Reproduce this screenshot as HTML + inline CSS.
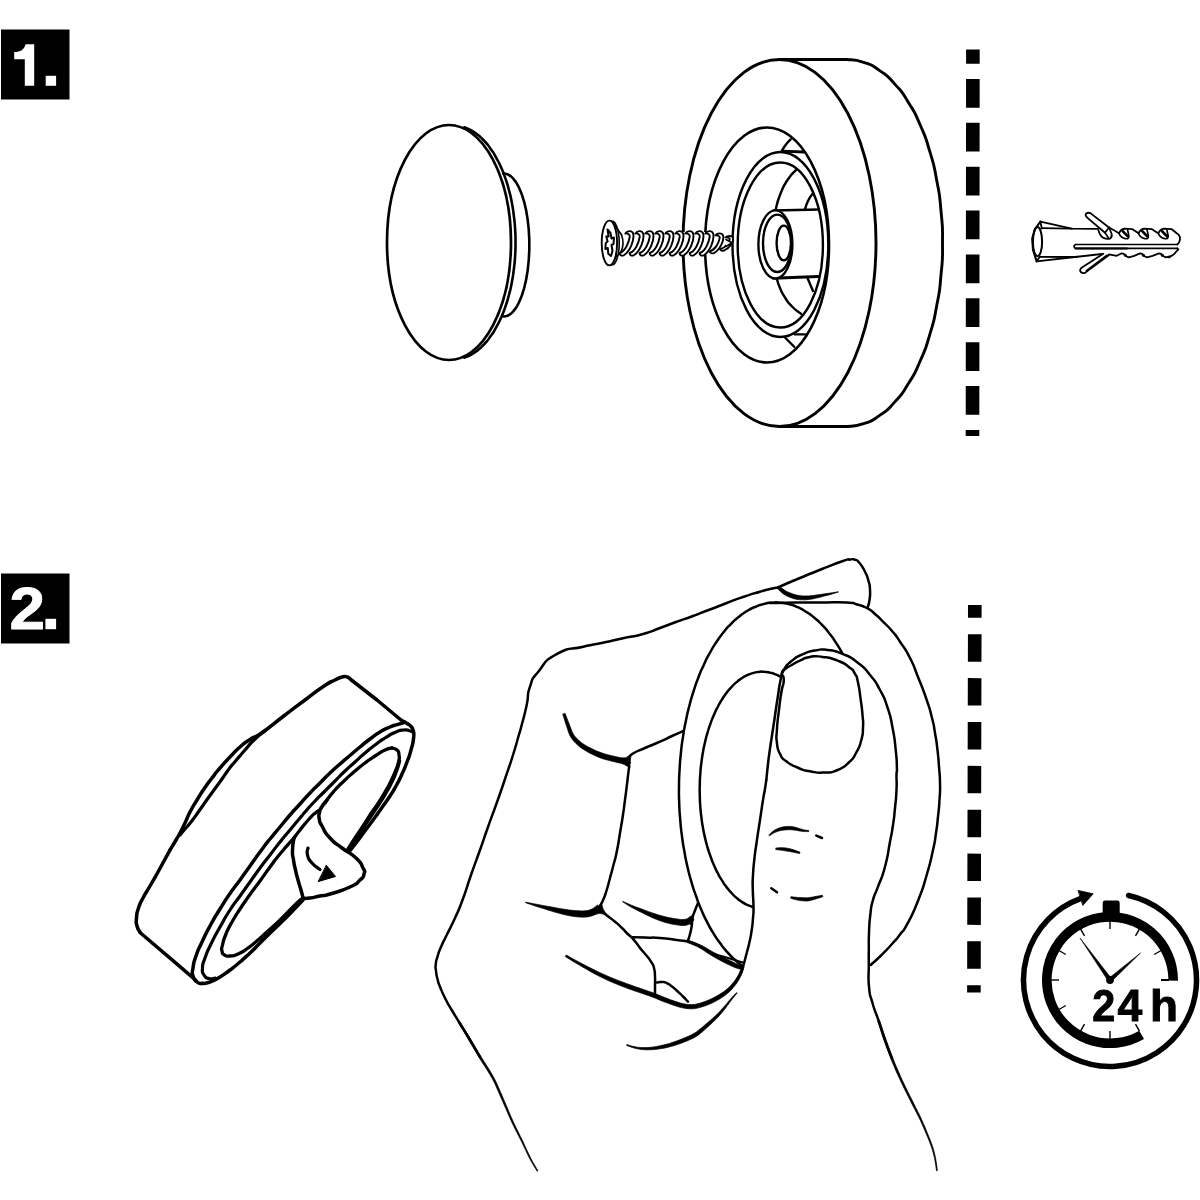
<!DOCTYPE html>
<html><head><meta charset="utf-8"><title>Montage</title>
<style>
html,body{margin:0;padding:0;background:#fff;}
body{width:1200px;height:1200px;overflow:hidden;font-family:"Liberation Sans",sans-serif;}
svg{display:block;}
text{font-family:"Liberation Sans",sans-serif;font-weight:bold;}
</style></head><body>
<svg width="1200" height="1200" viewBox="0 0 1200 1200" fill="none" stroke="#000" stroke-linecap="round" stroke-linejoin="round">
<defs><filter id="gray" x="-10%" y="-10%" width="120%" height="120%" color-interpolation-filters="sRGB"><feColorMatrix type="saturate" values="0"/></filter></defs>
<rect x="0" y="0" width="1200" height="1200" fill="#fff" stroke="none"/>

<!-- step labels -->
<g stroke="none">
<rect x="1" y="29.5" width="68.5" height="70" fill="#000"/>
<rect x="1" y="573.5" width="68.5" height="70" fill="#000"/>
<text x="12" y="86" font-size="59" fill="#000">1.</text>
<path d="M34.2,44.2 L34.2,85.8 L24.8,85.8 L24.8,59.2 L14.2,59.2 L14.2,52 C20.5,52 24.2,49.5 25.6,44.2 Z" fill="#fff"/>
<rect x="45.7" y="75.8" width="10.4" height="10" fill="#fff"/>
<text transform="translate(9.6,629.2) scale(1.075,1)" font-size="59.4" fill="#fff" stroke="#fff" stroke-width="0.9">2<tspan dx="-3" stroke="none">.</tspan></text>
<rect x="45.4" y="618.8" width="10.7" height="10.4" fill="#fff"/>
</g>
<!-- wall dashed lines -->
<line x1="972.9" y1="49.6" x2="972.5" y2="436" stroke-width="13.6" stroke-linecap="butt" stroke-dasharray="28.7 15.17" stroke-dashoffset="14.5"/>
<line x1="974.8" y1="604.9" x2="973.9" y2="992.5" stroke-width="13.6" stroke-linecap="butt" stroke-dasharray="27.4 16.47" stroke-dashoffset="14.5"/>
<!-- step 1: cover cap -->
<ellipse cx="449" cy="242.5" rx="62" ry="117.5" stroke-width="2.7" />
<path d="M464.3,127.3 C466.6,128.3 466.7,127.8 471.3,130.4 C475.9,133 473.7,131.5 478.1,135.1 C482.5,138.7 480.3,136.6 484.5,141.2 C488.7,145.7 486.7,143.2 490.5,148.7 C494.4,154.1 492.6,151.2 496,157.4 C499.5,163.6 497.9,160.4 501,167.3 C504.1,174.2 502.7,170.6 505.3,178.2 C507.9,185.8 506.8,181.9 508.9,190 C511.1,198.1 510.1,194 511.8,202.5 C513.4,211 512.7,206.7 513.8,215.5 C514.9,224.3 514.5,219.9 515.1,228.9 C515.6,237.9 515.5,233.4 515.5,242.5 C515.5,251.6 515.6,247.1 515.1,256.1 C514.5,265.1 514.9,260.7 513.8,269.5 C512.7,278.3 513.4,274 511.8,282.5 C510.1,291 511.1,286.9 508.9,295 C506.8,303.1 507.9,299.2 505.3,306.8 C502.7,314.4 504.1,310.8 501,317.7 C497.9,324.6 499.5,321.4 496,327.6 C492.6,333.8 494.4,330.9 490.5,336.3 C486.7,341.8 488.7,339.3 484.5,343.8 C480.3,348.4 482.5,346.3 478.1,349.9 C473.7,353.5 475.9,352 471.3,354.6 C466.7,357.2 466.6,356.7 464.3,357.7" stroke-width="2.6" />
<path d="M503.2,173.5 C504.4,173.7 504.4,173.2 506.9,174.1 C509.3,174.9 508.1,174.3 510.5,176.1 C512.9,178 511.7,176.8 514,179.6 C516.2,182.4 515.2,180.8 517.3,184.4 C519.3,188.1 518.4,186.1 520.2,190.5 C522.1,195 521.3,192.6 522.9,197.8 C524.5,202.9 523.8,200.2 525.1,206 C526.5,211.7 525.9,208.8 526.9,215 C528,221.2 527.5,218.1 528.2,224.6 C528.9,231.2 528.7,227.9 529,234.7 C529.4,241.5 529.3,238.1 529.3,245 C529.3,251.9 529.4,248.5 529,255.3 C528.7,262.1 528.9,258.8 528.2,265.4 C527.5,271.9 528,268.8 526.9,275 C525.9,281.2 526.5,278.3 525.1,284 C523.8,289.8 524.5,287.1 522.9,292.2 C521.3,297.4 522.1,295 520.2,299.5 C518.4,303.9 519.3,301.9 517.3,305.6 C515.2,309.2 516.2,307.6 514,310.4 C511.7,313.2 512.9,312 510.5,313.9 C508.1,315.7 509.3,315.1 506.9,315.9 C504.4,316.8 504.4,316.3 503.2,316.5" stroke-width="2.6" />
<!-- step 1: base ring -->
<ellipse cx="779.5" cy="243" rx="96.5" ry="183.5" stroke-width="2.9" />
<path d="M779.5,59.5 L847,59.5 847,59.5 C852.5,60.4 852.7,58.6 863.6,62.3 C874.5,66 869.3,63.3 879.7,70.6 C890.1,77.8 885.2,73.5 894.8,84.1 C904.3,94.7 899.9,88.8 908.4,102.4 C916.9,116.1 913.1,108.8 920.2,125 C927.3,141.3 924.2,132.9 929.7,151.2 C935.2,169.6 933,160.3 936.7,180.2 C940.5,200.2 939.1,190.2 941,211.1 C943,232.1 942.5,221.8 942.5,243 C942.5,264.2 943,253.9 941,274.9 C939.1,295.8 940.5,285.8 936.7,305.8 C933,325.7 935.2,316.4 929.7,334.8 C924.2,353.1 927.3,344.7 920.2,361 C913.1,377.2 916.9,369.9 908.4,383.6 C899.9,397.2 904.3,391.3 894.8,401.9 C885.2,412.5 890.1,408.2 879.7,415.4 C869.3,422.7 874.5,420 863.6,423.7 C852.7,427.4 852.5,425.6 847,426.5 L779.5,426.5" stroke-width="2.9" />
<ellipse cx="767" cy="245" rx="62" ry="117.5" stroke-width="2.6" />
<ellipse cx="780.4" cy="244.5" rx="47.9" ry="92.5" stroke-width="2.4" />
<ellipse cx="780.3" cy="245" rx="42.6" ry="82.5" stroke-width="2.4" />
<path d="M796,170 C793.2,173.3 792.8,171.7 787.5,180 C782.2,188.3 784,185 780,195 C776,205 777.1,205 775.6,210" stroke-width="2.4" />
<path d="M777,279.4 C778,282.3 777.3,282 780,288 C782.7,294 781,291.3 785,297.5 C789,303.7 786.7,301.1 792,306.5 C797.3,311.9 798,311.4 801,313.8" stroke-width="2.4" />
<path d="M790.6,139.4 C789.1,141.1 788.9,140.8 786,144.5 C783.1,148.2 783.3,148.6 781.9,150.6" stroke-width="2.4" />
<path d="M781.9,151.2 L803.8,152" stroke-width="2.8" />
<path d="M812.5,193.8 C811,196.2 810.5,195.8 808,201 C805.5,206.2 806,206.6 805,209.4" stroke-width="2.4" />
<path d="M773.5,210.5 L819,209.5" stroke-width="2.4" />
<path d="M773,278.2 L818.3,276.5" stroke-width="2.9" />
<path d="M807.5,278 L813,291" stroke-width="2.4" />
<path d="M795,334.4 L805.5,334.4" stroke-width="2.4" />
<path d="M785,337.5 L794.4,347" stroke-width="2.4" />
<ellipse cx="775.4" cy="244.4" rx="17" ry="34" stroke-width="2.4" fill="#fff"/>
<ellipse cx="777.3" cy="243.3" rx="14.3" ry="28.7" stroke-width="2.4" />
<ellipse cx="783.8" cy="243" rx="7.2" ry="17.4" stroke-width="2.4" />
<!-- step 1: screw -->
<path d="M622,232 L722,232 L731.5,242.5 L722,254.5 L622,254.5 Z" fill="#fff" stroke="none"/>
<path d="M621.5,235 C623.5,240 623.5,247 620.5,253" stroke-width="1.6"/>
<path d="M625.3,233.5 C627.3,230.4 632.3,230.2 633.3,234 C634.3,240 630.3,251 623.8,255.3 C621.3,256.4 619.3,254.6 619.8,253 C625.3,251 628.8,243 629.8,236.5 C629.8,234.5 627.3,233 625.3,233.5Z" stroke-width="1.9" fill="#fff"/>
<path d="M635.3,233.5 C637.3,230.4 642.3,230.2 643.3,234 C644.3,240 640.3,251 633.8,255.3 C631.3,256.4 629.3,254.6 629.8,253 C635.3,251 638.8,243 639.8,236.5 C639.8,234.5 637.3,233 635.3,233.5Z" stroke-width="1.9" fill="#fff"/>
<path d="M645.3,233.5 C647.3,230.4 652.3,230.2 653.3,234 C654.3,240 650.3,251 643.8,255.3 C641.3,256.4 639.3,254.6 639.8,253 C645.3,251 648.8,243 649.8,236.5 C649.8,234.5 647.3,233 645.3,233.5Z" stroke-width="1.9" fill="#fff"/>
<path d="M655.3,233.5 C657.3,230.4 662.3,230.2 663.3,234 C664.3,240 660.3,251 653.8,255.3 C651.3,256.4 649.3,254.6 649.8,253 C655.3,251 658.8,243 659.8,236.5 C659.8,234.5 657.3,233 655.3,233.5Z" stroke-width="1.9" fill="#fff"/>
<path d="M665.3,233.5 C667.3,230.4 672.3,230.2 673.3,234 C674.3,240 670.3,251 663.8,255.3 C661.3,256.4 659.3,254.6 659.8,253 C665.3,251 668.8,243 669.8,236.5 C669.8,234.5 667.3,233 665.3,233.5Z" stroke-width="1.9" fill="#fff"/>
<path d="M675.3,233.5 C677.3,230.4 682.3,230.2 683.3,234 C684.3,240 680.3,251 673.8,255.3 C671.3,256.4 669.3,254.6 669.8,253 C675.3,251 678.8,243 679.8,236.5 C679.8,234.5 677.3,233 675.3,233.5Z" stroke-width="1.9" fill="#fff"/>
<path d="M685.3,233.5 C687.3,230.4 692.3,230.2 693.3,234 C694.3,240 690.3,251 683.8,255.3 C681.3,256.4 679.3,254.6 679.8,253 C685.3,251 688.8,243 689.8,236.5 C689.8,234.5 687.3,233 685.3,233.5Z" stroke-width="1.9" fill="#fff"/>
<path d="M695.3,233.5 C697.3,230.4 702.3,230.2 703.3,234 C704.3,240 700.3,251 693.8,255.3 C691.3,256.4 689.3,254.6 689.8,253 C695.3,251 698.8,243 699.8,236.5 C699.8,234.5 697.3,233 695.3,233.5Z" stroke-width="1.9" fill="#fff"/>
<path d="M705.3,233.5 C707.3,230.4 712.3,230.2 713.3,234 C714.3,240 710.3,251 703.8,255.3 C701.3,256.4 699.3,254.6 699.8,253 C705.3,251 708.8,243 709.8,236.5 C709.8,234.5 707.3,233 705.3,233.5Z" stroke-width="1.9" fill="#fff"/>
<path d="M715.4,235.3 C717.3,232.7 722.2,232.6 723.2,235.7 C724.1,240.6 720.2,249.6 713.9,253.1 C711.5,254 709.5,252.6 710,251.3 C715.4,249.6 718.8,243.1 719.8,237.7 C719.8,236.1 717.3,234.9 715.4,235.3Z" stroke-width="1.9" fill="#fff"/>
<path d="M725.5,237.4 C727.4,235.6 732.1,235.4 733,237.7 C733.9,241.3 730.2,247.9 724.1,250.5 C721.7,251.2 719.8,250.1 720.3,249.1 C725.5,247.9 728.8,243.1 729.7,239.2 C729.7,238 727.4,237.1 725.5,237.4Z" stroke-width="1.9" fill="#fff"/>
<path d="M726,239.5 L732,242.8 L726,246.5" stroke-width="1.6" fill="#fff"/>
<path d="M611.5,221 L616.7,228 L621.7,235 M611.5,265 L615.8,256.7 L620.5,253" stroke-width="1.7"/>
<path d="M613.2,221.3 C613.6,221.7 613.7,221.5 614.6,222.6 C615.5,223.7 615.1,223 615.9,224.7 C616.7,226.3 616.3,225.4 617,227.4 C617.7,229.5 617.4,228.4 617.9,230.8 C618.5,233.2 618.3,231.9 618.6,234.6 C619,237.2 618.9,235.9 619.1,238.7 C619.2,241.5 619.2,240.1 619.2,243 C619.2,245.9 619.2,244.5 619.1,247.3 C618.9,250.1 619,248.8 618.6,251.4 C618.3,254.1 618.5,252.8 617.9,255.2 C617.4,257.6 617.7,256.5 617,258.6 C616.3,260.6 616.7,259.7 615.9,261.3 C615.1,263 615.5,262.3 614.6,263.4 C613.7,264.5 613.6,264.3 613.2,264.7" stroke-width="1.6" />
<ellipse cx="609.4" cy="243" rx="7.7" ry="22.4" stroke-width="1.9" fill="#fff"/>
<path d="M607.5,229.5 L610.5,233 L611.5,238.5 L614,237.5 L613.5,244 L611.5,245 L612.5,251 L611,256 L608.3,253.8 L607.8,248 L605.3,249 L605.8,243 L607.6,241.5 L606.3,236.5 L608.6,236.5 Z" stroke-width="2"/>
<!-- step 1: wall plug -->
<path d="M1040.4,221.7 L1071.7,228.6 L1098,228.8" stroke-width="1.8" />
<path d="M1041.7,228.2 L1072,228.7" stroke-width="1.8" />
<path d="M1036.7,261.3 L1075,257 L1101.7,254" stroke-width="1.8" />
<path d="M1040,256.8 L1076.7,257" stroke-width="1.8" />
<path d="M1040.4,221.7 L1035,229 L1032.2,238.5 L1033,250 L1036.7,261.3" stroke-width="2.1" />
<path d="M1040.4,221.7 L1041.8,228.5 M1036.7,261.3 L1040,256.5" stroke-width="1.8" />
<ellipse cx="1037.5" cy="241.7" rx="4.6" ry="14.6" stroke-width="2" />
<path d="M1075.5,244.5 L1177,244.5 M1177,248.4 L1075.5,248.4 Q1072.6,246.4 1075.5,244.5" stroke-width="1.7"/>
<path d="M1075.5,248.5 L1127,248.5" stroke-width="2.2" />
<path d="M1098.3,230 Q1100,236 1103,237.6 Q1107,239.6 1110,238.6 Q1112.6,237 1111.5,233.5 L1109,227.5" stroke-width="1.8" fill="#fff"/>
<path d="M1086.3,213.4 Q1088.5,212 1091,213.6 L1109,227.5 L1105,232.7 L1087.2,217.6 Q1084.6,215 1086.3,213.4 Z" stroke-width="1.8" fill="#fff"/>
<path d="M1105,232.7 L1108.5,238" stroke-width="1.6" />
<path d="M1103.3,253.7 L1081.2,268 Q1079.3,270 1080.8,272 Q1082.6,273.8 1085,272.9 L1109,255" stroke-width="1.8" fill="#fff"/>
<path d="M1086.5,270.6 L1107,255.3" stroke-width="1.8" />
<path d="M1109,227.5 L1114,230.2 L1119,233.3 Q1121,229.2 1124.5,228.7 L1132.5,229.2 L1135.5,231.2 L1138.5,233.3 Q1140.5,229.2 1144,228.7 L1152,229.2 L1155,231.2 L1158.3,233.3 Q1160.3,229.2 1163.8,228.7 L1171.8,229.2 L1176.7,233.3 Q1180.4,235.5 1180,239 Q1179.6,243 1177.3,244.5" stroke-width="1.8" />
<path d="M1119,233.3 Q1120.5,237.8 1125.5,238.7 Q1129.5,239.2 1128.8,235.5 L1127.5,229.6" stroke-width="1.7"/>
<path d="M1122.6,231 L1128,236.6" stroke-width="2.6" />
<path d="M1138.5,233.3 Q1140,237.8 1145,238.7 Q1149,239.2 1148.3,235.5 L1147,229.6" stroke-width="1.7"/>
<path d="M1142.1,231 L1147.5,236.6" stroke-width="2.6" />
<path d="M1158.3,233.3 Q1159.8,237.8 1164.8,238.7 Q1168.8,239.2 1168.1,235.5 L1166.8,229.6" stroke-width="1.7"/>
<path d="M1161.9,231 L1167.3,236.6" stroke-width="2.6" />
<path d="M1109,254.3 L1116.7,255.8 L1121.7,253.3 Q1124.2,253.3 1126.2,256.3 L1128.7,257.4 L1134.2,255.8 L1140,253.3 Q1142.5,253.3 1144.5,256.3 L1147,257.4 L1152.5,255.8 L1159,253.3 Q1161.5,253.3 1163.5,256.3 L1166,257.4 L1171.5,255.8 L1169,257.5 L1174,254.2 L1178.3,249.4 L1177.3,248.3" stroke-width="1.8" />
<circle cx="1125.3" cy="255.2" r="1.5" fill="#000" stroke="none"/>
<circle cx="1143.4" cy="255.2" r="1.5" fill="#000" stroke="none"/>
<circle cx="1162.3" cy="255.2" r="1.5" fill="#000" stroke="none"/>
<!-- step 2: loose ring with adhesive tab -->
<path d="M352,680.5 L377,700 L401,720 L408,724" stroke-width="3.5" />
<path d="M352,680.5 C351,679.7 350.8,679.2 349,678 C347.2,676.8 348.7,677.3 346.7,676.9 C344.7,676.5 346.9,675.8 343,676.8 C339.1,677.8 341.7,676.7 335,680 C328.3,683.3 333,680 323,686.7 C313,693.4 317.7,690.6 305,700 C292.3,709.4 299,704.3 285,715 C271,725.7 274.7,723.8 263,732 C251.3,740.2 257.7,734.5 250,739.5 C242.3,744.5 246.7,741.2 240,747 C233.3,752.8 236.7,750 230,757 C223.3,764 226,761 220,768 C214,775 217.3,771 212,778 C206.7,785 209,781.7 204,789 C199,796.3 201.7,792.3 197,800 C192.3,807.7 194,804.3 190,812 C186,819.7 188.3,816 185,823 C181.7,830 183,827.3 180,833 C177,838.7 179.3,834.3 176,840 C172.7,845.7 172,846.7 170,850" stroke-width="3.5" />
<path d="M170,850 C168,853.7 168,853.7 164,861 C160,868.3 162.7,863.7 158,872 C153.3,880.3 155,877.3 150,886 C145,894.7 146.8,890.7 143,898 C139.2,905.3 140.7,901.3 138.5,908 C136.3,914.7 137,912 136.5,918 C136,924 135.8,921.3 137,926 C138.2,930.7 139,930 140,932" stroke-width="3.5" />
<path d="M140,932.5 L180,966.7 L196,980.5" stroke-width="3.5" />
<path d="M266,730 C262,733.3 261,733.3 254,740 C247,746.7 251,743.2 245,750 C239,756.8 241.3,754.2 236,760.5 C230.7,766.8 233.7,762.8 229,769 C224.3,775.2 227,772 222,779 C217,786 219.3,782.7 214,790 C208.7,797.3 211,794 206,801 C201,808 204,804 199,811 C194,818 195.7,816 191,822 C186.3,828 188.7,824.7 185,829 C181.3,833.3 181.7,833 180,835" stroke-width="3.2" />
<path d="M408,724 C409,724.8 409.3,724.5 411,726.5 C412.7,728.5 412.1,726.2 413,730 C413.9,733.8 414.3,731.3 413.6,738 C412.9,744.7 413.2,742 411,750 C408.8,758 410,754 407,762 C404,770 405.7,766 402,774 C398.3,782 400,778.7 396,786 C392,793.3 394.3,789.3 390,796 C385.7,802.7 387.7,799.3 383,806 C378.3,812.7 381.7,808.2 376,816 C370.3,823.8 372.7,820.5 366,829.5 C359.3,838.5 362,835.2 356,843 C350,850.8 350.7,849.7 348,853" stroke-width="3.5" />
<path d="M405,722.2 C402.7,722.9 403,722.7 398,724.3 C393,725.9 396,724.4 390,727 C384,729.6 386.7,728 380,732 C373.3,736 376.7,734 370,739 C363.3,744 366.7,741.5 360,747 C353.3,752.5 356.7,749.8 350,755.5 C343.3,761.2 346.7,758.2 340,764 C333.3,769.8 336.7,766.7 330,773 C323.3,779.3 326.7,776.3 320,783 C313.3,789.7 316.7,786 310,793 C303.3,800 306.7,796.7 300,804 C293.3,811.3 296.7,807.3 290,815 C283.3,822.7 286.7,819 280,827 C273.3,835 276.7,830.7 270,839 C263.3,847.3 266.7,843 260,852 C253.3,861 256.7,856.7 250,866 C243.3,875.3 246.7,870.8 240,880 C233.3,889.2 236.7,883.8 230,893.5 C223.3,903.2 226.7,898.2 220,909 C213.3,919.8 216,915 210,926 C204,937 206.7,932 202,942 C197.3,952 199,947.3 196,956 C193,964.7 194,961.3 193,968 C192,974.7 191.7,971.3 193,976 C194.3,980.7 194,979.5 197,982 C200,984.5 200.3,983 202,983.5" stroke-width="3.5" />
<path d="M202,983.5 C204.7,983 204,984.2 210,982 C216,979.8 213.3,981 220,977 C226.7,973 223.3,975 230,970 C236.7,965 233.3,967.7 240,962 C246.7,956.3 243.3,959.3 250,953 C256.7,946.7 253.3,949.7 260,943 C266.7,936.3 263.3,939.7 270,933 C276.7,926.3 273.3,929.7 280,923 C286.7,916.3 283.3,920 290,913 C296.7,906 295.7,906.8 300,902 C304.3,897.2 302,899.7 303,898.5" stroke-width="3.5" />
<path d="M412,731.6 C409.3,731.1 409.7,729.7 404,730 C398.3,730.3 401.3,729.8 395,732.5 C388.7,735.2 391.7,733.8 385,738 C378.3,742.2 381.7,740 375,745 C368.3,750 371.7,747.3 365,753 C358.3,758.7 361.7,756 355,762 C348.3,768 351.7,764.7 345,771 C338.3,777.3 341.7,774.3 335,781 C328.3,787.7 331.7,784.3 325,791 C318.3,797.7 321.7,794 315,801 C308.3,808 310,806.3 305,812 C300,817.7 305,812 300,818 C295,824 296.7,822 290,830 C283.3,838 286.7,833.7 280,842 C273.3,850.3 276.7,846.3 270,855 C263.3,863.7 266.7,859 260,868 C253.3,877 256.7,872.7 250,882 C243.3,891.3 246.7,886.7 240,896 C233.3,905.3 236.7,899.7 230,910 C223.3,920.3 226.3,915.7 220,927 C213.7,938.3 216,933.7 211,944 C206,954.3 207.8,950 205,958 C202.2,966 202.8,962.3 202.5,968 C202.2,973.7 201.8,971.5 204,975 C206.2,978.5 205.3,977.5 209,978.5 C212.7,979.5 213,978.2 215,978" stroke-width="3.2" />
<path d="M392,748 C389.7,748.7 390.7,747.3 385,750 C379.3,752.7 381.7,751.7 375,756 C368.3,760.3 371.7,758 365,763 C358.3,768 361.7,765.3 355,771 C348.3,776.7 351.7,773.7 345,780 C338.3,786.3 341,783.3 335,790 C329,796.7 331.3,794 327,800 C322.7,806 325.7,803.8 322,808 C318.3,812.2 320,809.2 316,812.5 C312,815.8 315.3,812.2 310,818 C304.7,823.8 305.3,823.3 300,830 C294.7,836.7 296,835.3 294,838" stroke-width="3.3" />
<path d="M392,748 C393.7,748.7 394.7,747.7 397,750 C399.3,752.3 398.5,751 399,755 C399.5,759 399.8,756.3 398.5,762 C397.2,767.7 397.8,765 395,772 C392.2,779 393.3,776.3 390,783 C386.7,789.7 388.7,785.7 385,792 C381.3,798.3 383.3,795.3 379,802 C374.7,808.7 376.7,805 372,812 C367.3,819 370.3,814.8 365,823 C359.7,831.2 361.7,827.8 356,836.5 C350.3,845.2 350.7,844.8 348,849" stroke-width="3.3" />
<path d="M399.8,761 C398.6,764.8 399.1,764.8 396.3,772.3 C393.5,779.8 394.7,776.6 391.3,783.6 C387.9,790.6 389.8,786.7 386,793.3 C382.2,799.9 384.2,796.6 379.8,803.5 C375.4,810.4 377.9,806.3 372.8,814 C367.7,821.7 370.1,818.1 364.6,826.6 C359.1,835.1 361.5,831.6 356.4,839.5 C351.3,847.4 351.7,846.7 349.3,850.3" stroke-width="2.9" />
<path d="M294,838 C289.3,843.3 288,844.3 280,854 C272,863.7 276.7,858 270,867 C263.3,876 266.7,871.8 260,881 C253.3,890.2 256.7,885.2 250,894.5 C243.3,903.8 246,899.8 240,909 C234,918.2 236.7,913.7 232,922 C227.3,930.3 229.2,926.3 226,934 C222.8,941.7 223.8,939.3 222.5,945 C221.2,950.7 221.3,947.7 222,951 C222.7,954.3 221.8,953.3 224.5,955 C227.2,956.7 225.5,956.3 230,956 C234.5,955.7 232,956.7 238,954 C244,951.3 241.3,952.7 248,948 C254.7,943.3 251.3,945.7 258,940 C264.7,934.3 261.3,937 268,931 C274.7,925 271.3,928.3 278,922 C284.7,915.7 281.3,918.7 288,912 C294.7,905.3 293,906.7 298,902 C303,897.3 301.3,899.3 303,898" stroke-width="3.3" />
<path d="M262,940 C265.3,937 265.3,937.2 272,931 C278.7,924.8 275.3,928 282,921.5 C288.7,915 285,918.7 292,911.5 C299,904.3 299.3,903.8 303,900" stroke-width="3.5" />
<path d="M327,800 C325.3,802.2 324.5,802.3 322,806.5 C319.5,810.7 320.4,808.3 319.5,812.5 C318.6,816.7 318.5,814.5 319.3,819 C320.1,823.5 318.4,819.7 322,826 C325.6,832.3 323.3,830.7 330,838 C336.7,845.3 333.3,841.3 342,848 C350.7,854.7 349,851.3 356,858 C363,864.7 360.3,862.7 363,868 C365.7,873.3 365,870 364,874 C363,878 364.7,875.7 360,880 C355.3,884.3 360,882.3 350,887 C340,891.7 340,891 330,894 C320,897 326.7,894.7 320,896 C313.3,897.3 315.7,897.2 310,898 C304.3,898.8 305.3,898.2 303,898.3" stroke-width="3.5" fill="#fff"/>
<path d="M294,838 C293.5,842 292.7,842.7 292.5,850 C292.3,857.3 292.5,853.3 293.5,860 C294.5,866.7 294,863.3 295.5,870 C297,876.7 296.2,873.3 298,880 C299.8,886.7 299.3,884 301,890 C302.7,896 302.3,895.3 303,898" stroke-width="3.5" />
<path d="M308,848 C307.8,850.3 306.2,850 307.5,855 C308.8,860 307.8,858.2 312,863 C316.2,867.8 317.3,867.3 320,869.5" stroke-width="3.2" />
<path d="M326.5,865.5 L335.5,876.5 L318.5,881.5 Z" fill="#000" stroke-width="1"/>
<!-- step 2: hand pressing ring to wall -->
<path d="M770,603 C778.3,602.9 778.3,602.8 795,602.6 C811.7,602.4 802.8,602.5 820,602.5 C837.2,602.5 834.4,601.8 846.7,602.5 C859,603.2 850.3,602.7 857,604.5 C863.7,606.3 860.7,604.8 866.7,608 C872.7,611.2 869.6,609.4 875,614 C880.4,618.6 877.3,616 883,621.7 C888.7,627.4 886.3,624.3 892,631 C897.7,637.7 894,632.7 900,641.7 C906,650.7 904,646.2 910,658 C916,669.8 912.4,663 918,677 C923.6,691 922,686.3 926.7,700 C931.4,713.7 929.2,707 932,718 C934.8,729 933.2,722.3 935,733 C936.8,743.7 936.2,738.8 937.5,750 C938.8,761.2 938.2,755.7 939,766.7 C939.8,777.7 939.8,771.9 940,783 C940.2,794.1 940.2,788.8 939.5,800 C938.8,811.2 939.2,805.7 938,816.7 C936.8,827.7 937.7,821.9 936,833 C934.3,844.1 936.1,836 933,850 C929.9,864 931.5,858.7 926.7,875 C921.9,891.3 924.9,883.1 918.7,899 C912.5,914.9 914.2,910.9 908,922.7 C901.8,934.5 905.3,927.4 900,934.5 C894.7,941.6 898.3,937 892,944 C885.7,951 888.1,948.5 881,955.5 C873.9,962.5 874.1,961.8 870.7,965" stroke-width="2.5" />
<path d="M842.6,653.8 C840.5,650.1 840.6,649.8 836.1,642.9 C831.6,636 834,639.2 829.2,633.2 C824.4,627.1 826.8,629.9 821.8,624.7 C816.7,619.4 819.3,621.8 814,617.5 C808.7,613.1 811.4,615.1 805.9,611.7 C800.5,608.2 803.2,609.7 797.6,607.2 C792.1,604.8 794.9,605.7 789.2,604.2 C783.5,602.7 786.3,603.2 780.6,602.7 C774.9,602.2 777.7,602.2 772,602.7 C766.3,603.1 769.1,602.6 763.4,604.1 C757.7,605.5 760.5,604.6 754.9,607 C749.4,609.4 752.1,607.9 746.6,611.3 C741.2,614.7 743.8,612.8 738.6,617 C733.3,621.3 735.8,619 730.8,624.1 C725.7,629.3 728.2,626.5 723.3,632.5 C718.5,638.5 720.9,635.4 716.3,642.2 C711.8,649 714,645.4 709.8,653 C705.6,660.5 707.6,656.6 703.8,664.9 C699.9,673.1 701.7,668.8 698.3,677.7 C694.9,686.6 696.5,682 693.5,691.5 C690.5,700.9 691.8,696.1 689.3,706 C686.7,715.9 687.9,710.9 685.8,721.2 C683.7,731.5 684.6,726.3 683,736.9 C681.3,747.5 682,742.2 680.9,753.1 C679.8,763.9 680.2,758.5 679.6,769.5 C679,780.5 679.1,775 679,786.1 C678.9,797.2 678.8,791.7 679.2,802.7 C679.6,813.8 679.3,808.3 680.2,819.3 C681.1,830.2 680.5,824.8 681.9,835.6 C683.3,846.3 682.5,841 684.4,851.5 C686.2,862 685.2,856.9 687.5,867 C689.9,877.1 688.6,872.2 691.4,881.8 C694.2,891.5 692.7,886.8 696,895.9 C699.2,905.1 697.5,900.7 701.1,909.2 C704.8,917.8 702.9,913.7 706.9,921.6 C710.9,929.5 708.8,925.7 713.2,932.9 C717.6,940.1 715.3,936.7 720,943.1 C724.7,949.5 722.3,946.5 727.3,952.1 C732.2,957.7 729.7,955.1 734.9,959.8 C740.1,964.5 740.2,964.1 742.8,966.2" stroke-width="2.5" />
<path d="M781.1,677.2 C779.3,676.2 779.3,675.9 775.6,674.4 C771.9,672.9 773.7,673.5 769.9,672.6 C766.1,671.7 768,672 764.2,671.8 C760.4,671.5 762.3,671.5 758.5,671.9 C754.7,672.4 756.6,672 752.8,673.1 C749,674.2 750.9,673.5 747.2,675.2 C743.5,677 745.3,675.9 741.7,678.3 C738.1,680.7 739.8,679.4 736.3,682.4 C732.9,685.3 734.6,683.7 731.2,687.3 C727.9,690.9 729.5,689 726.4,693.1 C723.3,697.2 724.8,695 721.9,699.7 C718.9,704.4 720.3,701.9 717.7,707.1 C715,712.2 716.2,709.6 713.8,715.2 C711.4,720.7 712.5,717.9 710.4,723.8 C708.3,729.8 709.3,726.8 707.4,733.1 C705.6,739.4 706.4,736.2 704.9,742.8 C703.4,749.4 704,746.1 702.8,753 C701.7,759.8 702.2,756.4 701.3,763.4 C700.4,770.4 700.8,766.9 700.3,774 C699.8,781.2 699.9,777.6 699.8,784.8 C699.6,792 699.6,788.5 699.8,795.7 C700,802.9 699.8,799.3 700.3,806.5 C700.8,813.6 700.5,810.1 701.4,817.1 C702.2,824.1 701.7,820.7 702.9,827.5 C704.1,834.4 703.5,831 705,837.6 C706.5,844.3 705.7,841 707.5,847.4 C709.4,853.7 708.4,850.6 710.6,856.6 C712.7,862.5 711.6,859.7 714,865.2 C716.4,870.8 715.2,868.2 717.8,873.3 C720.5,878.4 719.1,876 722.1,880.6 C725,885.3 723.5,883.1 726.6,887.2 C729.8,891.3 728.2,889.4 731.5,893 C734.8,896.5 733.1,894.9 736.6,897.9 C740.1,900.8 738.3,899.5 741.9,901.9 C745.5,904.2 743.7,903.2 747.4,904.9 C751.1,906.6 751.2,906.3 753,907" stroke-width="2.5" />
<path d="M480,1057 C476,1050.2 475,1048.4 468,1036.7 C461,1025 464.4,1030.9 459,1022 C453.6,1013.1 456.4,1018 451.7,1010 C447,1002 448.9,1005.8 445,998 C441.1,990.2 442.5,993 440,986.7 C437.5,980.4 438.8,984.2 437.5,979 C436.2,973.8 436.6,976 436,971 C435.4,966 435.3,968.8 435.8,964 C436.3,959.2 435.8,962.4 437.5,956.7 C439.2,951 437.9,954.2 441,947 C444.1,939.8 442,944.7 446.7,935 C451.4,925.3 449.7,929.7 455,918 C460.3,906.3 457.2,914.3 462.5,900 C467.8,885.7 465.2,891.7 471,875 C476.8,858.3 474.3,866 480,850 C485.7,834 482.4,842.7 488,827 C493.6,811.3 491,819 496.7,803 C502.4,787 499.6,795 505,779 C510.4,763 508.7,768.7 513,755 C517.3,741.3 515.1,748 518,738 C520.9,728 518.8,736 521.7,725 C524.6,714 523.9,717.8 526.7,705 C529.5,692.2 526.1,697.8 530,686.7 C533.9,675.6 529.4,682.5 538.3,671.7 C547.2,660.9 541.7,662.5 556.7,654.2 C571.7,645.9 568.3,650.4 583.3,646.7 C598.3,643 588.8,645.7 601.7,643 C614.6,640.3 608.2,641.5 622,638.5 C635.8,635.5 630.3,637.5 643,634 C655.7,630.5 649,632 660,628 C671,624 665,626 676,622 C687,618 681.7,620.2 693,616 C704.3,611.8 698.8,613.8 710,609.5 C721.2,605.2 715.7,607.2 726.7,603 C737.7,598.8 731.9,600.8 743,597 C754.1,593.2 751,594.4 760,591.7 C769,589 764,590.4 770,589 C776,587.6 775.3,588 778,587.5" stroke-width="2.5" />
<path d="M458.2,1022.5 L459.7,1025 L461.9,1028.6 L464.5,1032.8 L467.1,1037.2 L469.9,1041.9 L472.9,1047 L476,1052.3 L479.1,1057.5 L482.4,1062.7 L485.8,1067.9 L489.1,1073.2 L492.2,1078.5 L494.9,1083.8 L497.3,1089.2 L499.7,1094.8 L502.2,1100.3 L504.7,1106.1 L507.3,1112.1 L509.8,1117.9 L512.3,1123.3 L514.7,1128.2 L517,1132.7 L519.2,1137 L521.4,1141.3 L523.5,1145.7 L525.6,1150.1 L527.5,1154.3 L529.5,1158.2 L531.6,1162.1 L533.8,1165.8 L535.8,1169 L537.1,1171.2 L537.9,1170.8 L536.6,1168.5 L534.7,1165.3 L532.5,1161.6 L530.5,1157.8 L528.6,1153.8 L526.6,1149.6 L524.6,1145.2 L522.6,1140.7 L520.4,1136.4 L518.3,1132.1 L516,1127.6 L513.7,1122.7 L511.3,1117.3 L508.8,1111.4 L506.3,1105.5 L503.8,1099.7 L501.4,1094 L499,1088.5 L496.6,1083 L493.8,1077.5 L490.8,1072.2 L487.5,1066.9 L484.1,1061.6 L480.9,1056.5 L477.7,1051.2 L474.6,1045.9 L471.6,1040.8 L468.9,1036.2 L466.2,1031.8 L463.6,1027.6 L461.4,1024 L459.8,1021.5Z" fill="#000" stroke="#000" stroke-width="0.7"/>
<path d="M778,587.5 C781.3,586 780.7,586.2 788,583 C795.3,579.8 788.7,582.7 800,578 C811.3,573.3 807.7,574.7 822,569 C836.3,563.3 833.7,564.1 843,561 C852.3,557.9 846,560 850,559.6 C854,559.2 851.8,558.6 855,559.7 C858.2,560.8 856.2,559 859.5,563 C862.8,567 862,565.7 865,571.7 C868,577.7 866.8,574.9 868.5,581 C870.2,587.1 869.7,583.7 870,590 C870.3,596.3 870.3,594 869.5,600 C868.7,606 868.2,605.3 867.5,608" stroke-width="2.5" />
<path d="M837.9,591.8 L836.6,592 L834.6,592.3 L832.4,592.7 L830.3,593 L828.5,593.3 L826.7,593.5 L824.8,593.8 L822.8,594.1 L820.6,594.4 L818.2,594.8 L815.9,595.1 L813.7,595.4 L811.8,595.6 L810.1,595.8 L808.4,595.9 L806.6,595.9 L804.7,595.9 L802.8,595.9 L800.9,595.7 L799.2,595.6 L797.7,595.3 L796.4,595 L795,594.6 L793.6,594.2 L792.2,593.7 L790.7,593.1 L789.2,592.6 L787.9,592 L786.8,591.5 L785.9,591 L785,590.4 L784.1,589.8 L783,589.1 L781.8,588.2 L780.8,587.4 L780,586.8 L778,589.2 L778.7,589.8 L779.7,590.8 L780.8,591.8 L781.9,592.8 L782.9,593.5 L783.8,594.2 L784.9,594.9 L786.1,595.6 L787.5,596.3 L789.1,597 L790.7,597.6 L792.4,598.2 L793.9,598.7 L795.4,599.1 L797,599.4 L798.8,599.6 L800.7,599.8 L802.7,599.8 L804.8,599.8 L806.8,599.7 L808.7,599.5 L810.5,599.3 L812.3,599 L814.3,598.6 L816.4,598.1 L818.8,597.5 L821.1,596.9 L823.2,596.3 L825.2,595.8 L827,595.4 L828.8,594.9 L830.7,594.4 L832.7,593.8 L834.8,593.2 L836.7,592.6 L838.1,592.2Z" fill="#000" stroke="#000" stroke-width="0.7"/>
<path d="M766.3,780 C766.9,774.7 766.8,774.4 768,764 C769.2,753.6 768.1,762.2 770,748.8 C771.9,735.4 771.3,740.5 773.8,723.8 C776.3,707.1 775.2,713.4 777.5,698.8 C779.8,684.2 778.5,689.6 780.6,680 C782.7,670.4 780.2,676.2 783.8,670 C787.4,663.8 785.1,666.5 791.3,661.3 C797.5,656.1 794.6,658 802.5,654.4 C810.4,650.8 806.7,652.1 815,650.6 C823.3,649.1 818.3,648.9 827.5,650 C836.7,651.1 832.5,649.6 842.5,653.8 C852.5,658 848.3,655.4 857.5,662.5 C866.7,669.6 862.5,665.8 870,675 C877.5,684.2 874.2,679.2 880,690 C885.8,700.8 883.3,695 887.5,707.5 C891.7,720 889.8,713.7 892.5,727.5 C895.2,741.3 894.1,735.5 895.6,748.8 C897.1,762.1 896.6,758.8 896.9,767.5 C897.2,776.2 896.6,767.5 896.5,775 C896.4,782.5 897,779 896.5,790 C896,801 896.2,796.3 895,808 C893.8,819.7 894.7,813.8 893,825 C891.3,836.2 892.7,827.8 890,841.7 C887.3,855.6 889,851.7 885,866.7 C881,881.7 882,875.6 878,886.7 C874,897.8 875.6,890.6 873,900 C870.4,909.4 871.6,904 870.3,915 C869,926 869.5,921.3 869,933 C868.5,944.7 868.9,939.3 868.8,950 C868.7,960.7 868.7,952.8 868.8,965 C868.9,977.2 867.8,974 869,986.7 C870.2,999.4 869.3,991.6 872.5,1003 C875.7,1014.4 874.5,1008.7 878.7,1021 C882.9,1033.3 880.6,1027.4 885,1040 C889.4,1052.6 889.7,1052.5 892,1058.7" stroke-width="2.5" />
<path d="M877.8,1021.3 L878.9,1024.7 L880.5,1029.6 L882.3,1035.2 L884,1040.3 L885.8,1045.2 L887.6,1050 L889.4,1054.7 L891.1,1059.1 L892.6,1062.9 L894.1,1066.5 L895.5,1069.9 L897.1,1073.4 L898.8,1077.1 L900.5,1080.8 L902.3,1084.6 L904.2,1088.4 L906.1,1092.3 L908.1,1096.3 L910.2,1100.4 L912.2,1104.4 L914.3,1108.4 L916.4,1112.5 L918.4,1116.5 L920.3,1120.3 L922,1124 L923.5,1127.5 L925,1130.9 L926.4,1134.3 L927.8,1137.6 L929.1,1140.8 L930.3,1143.9 L931.4,1146.9 L932.4,1149.8 L933.1,1152.5 L933.8,1155.2 L934.5,1158.1 L935.1,1161.5 L935.7,1165.1 L936.2,1168.5 L936.6,1170.8 L937.4,1170.6 L937.1,1168.3 L936.7,1165 L936.1,1161.3 L935.5,1157.9 L934.9,1155 L934.2,1152.2 L933.5,1149.4 L932.6,1146.5 L931.5,1143.4 L930.3,1140.3 L929,1137 L927.6,1133.7 L926.3,1130.4 L924.9,1126.9 L923.3,1123.4 L921.7,1119.7 L919.9,1115.8 L917.9,1111.8 L915.8,1107.7 L913.8,1103.6 L911.8,1099.6 L909.7,1095.5 L907.7,1091.5 L905.8,1087.6 L904,1083.8 L902.2,1080 L900.5,1076.3 L898.9,1072.6 L897.4,1069.1 L895.9,1065.7 L894.5,1062.2 L892.9,1058.3 L891.3,1054 L889.5,1049.3 L887.7,1044.4 L886,1039.7 L884.2,1034.5 L882.4,1029 L880.8,1024.1 L879.6,1020.7Z" fill="#000" stroke="#000" stroke-width="0.7"/>
<path d="M766.3,780 C765.8,783.3 765.9,783.3 764.8,790 C763.7,796.7 764.6,790 763,800 C761.4,810 762.1,806.1 760,820 C757.9,833.9 758.5,829 756.7,841.7 C754.9,854.4 755.7,846.9 754.5,858 C753.3,869.1 753.6,864.3 753,875 C752.4,885.7 752.6,879.4 752.8,890 C753,900.6 753.4,897.4 753.5,906.7 C753.6,916 753.6,910.2 753,918 C752.4,925.8 752.9,922 751.7,930 C750.5,938 751.2,934.3 749.5,942 C747.8,949.7 748.9,944.8 746.7,953 C744.5,961.2 745.1,959.7 743,966.7 C740.9,973.7 742.4,969.6 740.3,974 C738.2,978.4 737.9,978 736.7,980" stroke-width="2.5" />
<path d="M742,966.3 L741.5,967.7 L740.8,969.5 L739.9,971.6 L739.1,973.5 L738.3,975.1 L737.4,976.7 L736.5,978.2 L735.5,979.7 L734.4,981.2 L733.2,982.6 L732,984 L730.8,985.4 L729.5,986.7 L728.3,987.9 L727,989.1 L725.6,990.3 L723.9,991.6 L722,992.8 L720,994.1 L718,995.3 L715.9,996.5 L713.6,997.7 L711.4,998.8 L709.2,999.8 L707,1000.7 L704.7,1001.6 L702.5,1002.3 L700.4,1003 L698.4,1003.6 L696.5,1004.1 L694.7,1004.4 L692.9,1004.6 L690.9,1004.6 L688.7,1004.5 L686.6,1004.3 L684.4,1003.9 L682.3,1003.5 L680.2,1002.9 L678,1002.3 L675.7,1001.5 L673.1,1000.6 L670.3,999.7 L667.5,998.6 L664.8,997.5 L662.1,996.5 L659.4,995.3 L656.7,994.2 L653.7,993 L650.5,991.9 L647.1,990.7 L643.8,989.6 L640.7,988.5 L638.1,987.6 L635.9,986.9 L633.6,986.1 L630.7,985 L626.9,983.7 L622.6,982.1 L618.1,980.4 L613.8,978.7 L609.6,977 L605.6,975.2 L601.6,973.4 L597.5,971.5 L593.1,969.3 L588.5,967 L584.2,964.8 L580.6,962.9 L577.9,961.5 L575.9,960.4 L574.2,959.5 L572.5,958.6 L570.7,957.6 L568.9,956.5 L567.4,955.6 L566.3,955 L565.3,956.6 L566.4,957.2 L567.9,958.2 L569.7,959.3 L571.5,960.4 L573.1,961.4 L574.8,962.4 L576.8,963.6 L579.4,965.1 L582.9,967.2 L587.1,969.6 L591.6,972.2 L595.9,974.5 L600,976.6 L604.1,978.6 L608.1,980.5 L612.2,982.3 L616.6,984.1 L621.2,985.9 L625.5,987.6 L629.3,989 L632.2,990 L634.6,990.9 L636.8,991.6 L639.3,992.5 L642.4,993.5 L645.8,994.7 L649.1,995.8 L652.3,997 L655.1,998.1 L657.8,999.2 L660.5,1000.4 L663.2,1001.5 L666.1,1002.5 L668.9,1003.6 L671.7,1004.6 L674.3,1005.5 L676.8,1006.3 L679,1007 L681.3,1007.6 L683.6,1008.1 L686,1008.4 L688.4,1008.7 L690.8,1008.8 L693.1,1008.8 L695.4,1008.6 L697.5,1008.1 L699.5,1007.6 L701.6,1007 L703.8,1006.3 L706.2,1005.5 L708.5,1004.6 L710.8,1003.6 L713.2,1002.5 L715.5,1001.3 L717.8,1000 L720,998.7 L722.1,997.3 L724.1,995.9 L726.1,994.5 L727.8,993.1 L729.4,991.7 L730.8,990.4 L732,989 L733.2,987.6 L734.5,986.1 L735.7,984.6 L736.8,983 L737.9,981.3 L738.9,979.7 L739.8,978 L740.7,976.3 L741.5,974.5 L742.3,972.5 L743,970.3 L743.6,968.4 L744,967.1Z" fill="#000" stroke="#000" stroke-width="0.7"/>
<path d="M782,673 C782.7,669.2 782.7,671.2 786,668.5 C789.3,665.8 787,667.7 791.8,665 C796.6,662.3 794.4,663 800.5,660.3 C806.6,657.6 802.7,658 810,656.9 C817.3,655.8 813.3,655.7 822.5,656.9 C831.7,658.1 828.7,657.3 837.5,660.6 C846.3,663.9 843,662.5 848.8,666.9 C854.6,671.3 851.9,668.6 855,673.8 C858.1,679 856.1,674.2 858,682.5 C859.9,690.8 859.1,688 860.6,698.8 C862.1,709.6 861.7,705.4 862.5,715 C863.3,724.6 863.4,719.2 863,727.5 C862.6,735.8 863.5,731.7 861.3,740 C859.1,748.3 860.5,745 856.3,752.5 C852.1,760 855.1,756.7 848.8,762.5 C842.5,768.3 845.4,766.7 837.5,770 C829.6,773.3 834.2,772.1 825,772.5 C815.8,772.9 819.2,773 810,771.3 C800.8,769.6 805.4,770.8 797.5,767.5 C789.6,764.2 792.1,765.9 786.3,761.3 C780.5,756.7 783.1,760.1 780,753.8 C776.9,747.5 777.9,750.4 776.9,742.5 C775.9,734.6 776.3,740.4 776.9,730 C777.5,719.6 777.3,723.8 778.8,711.3 C780.3,698.8 779.6,702.9 781.3,692.5 C783,682.1 783.6,686.5 783.8,680 C784,673.5 781.3,676.8 782,673Z" stroke-width="2.5" />
<path d="M769.7,835.7 L770.5,835.1 L771.6,834.3 L772.8,833.5 L774,832.8 L775.3,832.3 L776.6,831.8 L777.9,831.3 L779.3,830.9 L780.5,830.6 L781.7,830.4 L782.9,830.2 L784.2,830 L785.6,829.9 L787.1,829.8 L788.5,829.7 L789.9,829.7 L791.3,829.8 L792.6,829.9 L793.9,830 L795.2,830.2 L796.5,830.4 L797.8,830.6 L799,830.9 L800.3,831.1 L801.4,831.3 L802.4,831.4 L803.4,831.5 L804.4,831.5 L805.6,831.6 L806.8,831.6 L808,831.6 L808.8,831.6 L808.8,830.6 L808.1,830.5 L807,830.3 L805.7,830.1 L804.6,829.9 L803.6,829.7 L802.7,829.4 L801.8,829.2 L800.7,828.9 L799.6,828.6 L798.4,828.2 L797.1,827.8 L795.8,827.4 L794.4,827.1 L793,826.8 L791.6,826.6 L790.1,826.5 L788.5,826.4 L786.9,826.5 L785.3,826.6 L783.8,826.8 L782.4,827 L781,827.4 L779.7,827.8 L778.3,828.3 L777,828.9 L775.6,829.5 L774.2,830.3 L773,831.2 L771.8,832.2 L770.7,833.3 L769.7,834.2 L769.1,834.9Z" fill="#000" stroke="#000" stroke-width="0.7"/>
<path d="M816.3,835.6 L822,838" stroke-width="2.5" />
<path d="M776.1,849.6 L777.1,849.7 L778.6,849.9 L780.3,850.1 L781.9,850.3 L783.4,850.6 L785.1,850.8 L786.7,851.1 L788.2,851.3 L789.7,851.5 L791,851.8 L792.3,852 L793.7,852.3 L795.3,852.6 L797,853 L798.5,853.3 L799.6,853.6 L800,852.2 L799,851.8 L797.5,851.3 L795.9,850.6 L794.3,850.1 L792.9,849.6 L791.6,849.2 L790.2,848.8 L788.8,848.5 L787.2,848.2 L785.5,847.9 L783.8,847.8 L782.1,847.7 L780.4,847.7 L778.7,847.8 L777.2,847.9 L776.1,848Z" fill="#000" stroke="#000" stroke-width="0.7"/>
<path d="M771.3,888.3 L777,892.2" stroke-width="2.5" />
<path d="M790.9,898.3 L791.7,898.5 L792.8,898.9 L794.1,899.2 L795.3,899.6 L796.3,899.8 L797.3,900 L798.4,900.3 L799.7,900.5 L801.2,900.7 L803,900.8 L804.9,901 L806.5,901 L807.9,900.9 L809.2,900.7 L810.3,900.5 L811.3,900.3 L812.2,900 L813,899.8 L813.9,899.5 L815.1,899.2 L816.9,898.6 L819.2,897.9 L821.3,897.2 L822.8,896.7 L822.4,895.3 L820.9,895.6 L818.7,895.9 L816.4,896.3 L814.5,896.6 L813.3,896.9 L812.4,897.1 L811.6,897.2 L810.7,897.3 L809.7,897.5 L808.7,897.6 L807.7,897.8 L806.5,897.8 L805,897.8 L803.2,897.7 L801.5,897.6 L799.9,897.5 L798.7,897.5 L797.7,897.4 L796.7,897.3 L795.7,897.2 L794.5,897.1 L793.2,897 L792.1,896.8 L791.3,896.7Z" fill="#000" stroke="#000" stroke-width="0.7"/>
<path d="M562.8,714.4 L563.4,716.2 L564.2,718.8 L565.1,721.7 L566,724.5 L566.9,727.3 L567.9,730.3 L568.9,733.2 L570.1,735.9 L571.4,738.1 L572.7,739.9 L574.1,741.5 L575.5,743 L577,744.4 L578.5,745.8 L580,747.1 L581.8,748.4 L583.7,749.6 L585.7,750.8 L587.8,752 L589.9,753.2 L592.2,754.3 L594.5,755.4 L596.8,756.4 L599.1,757.4 L601.2,758.2 L603.3,758.9 L605.3,759.5 L607.3,760 L609.5,760.6 L611.8,761.2 L614,761.7 L616.1,762.2 L618.1,762.7 L619.9,763.1 L621.6,763.5 L623,764 L624.4,764.6 L625.9,765.4 L627.2,766.1 L628.2,766.6 L630.8,762.4 L629.9,761.8 L628.5,760.9 L626.8,759.9 L625,759 L623.1,758.4 L621.2,757.9 L619.3,757.4 L617.3,757 L615.2,756.5 L613,756 L610.8,755.5 L608.7,755 L606.7,754.4 L604.8,753.9 L602.9,753.3 L600.9,752.6 L598.8,751.8 L596.5,750.9 L594.2,749.9 L592.1,748.8 L590,747.8 L587.9,746.8 L586,745.7 L584.2,744.6 L582.7,743.6 L581.2,742.5 L579.8,741.3 L578.5,740 L577.1,738.7 L575.7,737.3 L574.5,735.9 L573.3,734.1 L572.2,731.9 L571.1,729.1 L570,726.3 L569,723.5 L567.9,720.7 L566.8,717.9 L565.8,715.3 L565.2,713.6Z" fill="#000" stroke="#000" stroke-width="0.7"/>
<path d="M628,758.5 C629.7,756.8 627.3,757 633,753.5 C638.7,750 636,751.9 645,748 C654,744.1 651,745.7 660,741.7 C669,737.7 664.3,739.5 672,736 C679.7,732.5 679.3,732.8 683,731.2" stroke-width="2.5" />
<path d="M629.2,766 C628.6,770.7 628.9,768.7 627.5,780 C626.1,791.3 626.6,788 625,800 C623.4,812 624.5,805 622.8,816 C621.1,827 622,821 620,833 C618,845 619,840.8 616.7,852 C614.4,863.2 615.2,858 613,866.7 C610.8,875.4 612.1,870.2 610,878 C607.9,885.8 608.9,883 606.7,890 C604.5,897 605.7,893.7 603.5,899 C601.3,904.3 601.2,903.7 600,906" stroke-width="2.5" />
<path d="M525.7,902.7 L527.5,903.4 L530.1,904.2 L533,905.2 L535.8,906.2 L538.3,907 L540.9,907.8 L543.5,908.6 L546.3,909.4 L549.2,910.4 L552.2,911.3 L555.3,912.3 L558.5,913.1 L561.7,914 L565,914.8 L568.3,915.5 L571.3,916.1 L574,916.5 L576.5,916.8 L578.8,917 L580.9,917.1 L583,917.2 L584.9,917.1 L586.7,917 L588.6,916.7 L590.4,916.3 L592.1,915.8 L593.9,915.1 L595.6,914.2 L597.4,912.9 L599.1,911.4 L600.4,910 L601.3,909.1 L597.7,904.9 L596.6,905.7 L595.2,906.9 L593.7,908 L592.4,908.8 L591.3,909.3 L590.1,909.8 L588.8,910.2 L587.4,910.5 L586,910.7 L584.5,910.8 L582.9,910.9 L581.1,910.9 L579.1,910.8 L577,910.7 L574.7,910.6 L572.1,910.3 L569.2,910 L566,909.5 L562.7,909 L559.5,908.5 L556.4,907.9 L553.2,907.3 L550.1,906.7 L547.1,906.2 L544.3,905.7 L541.5,905.2 L538.9,904.7 L536.2,904.2 L533.4,903.7 L530.4,903.1 L527.7,902.6 L525.9,902.3Z" fill="#000" stroke="#000" stroke-width="0.7"/>
<path d="M600,910 C602.3,911.8 602,911.6 607,915.5 C612,919.4 610,917.5 615,921.7 C620,925.9 618.1,924.2 622,928 C625.9,931.8 623.5,929.9 626.7,933 C629.9,936.1 630,935.8 631.7,937.2" stroke-width="2.5" />
<path d="M631.7,937.2 C633.1,939 633.2,938.9 636,942.5 C638.8,946.1 636.7,943.8 640,948 C643.3,952.2 642.3,950.4 646,955 C649.7,959.6 648.3,957.4 651,961.7 C653.7,966 652.7,963 654,968 C655.3,973 654.7,970.7 655,976.7 C655.3,982.7 655,979.6 655,986 C655,992.4 655,992.7 655,996" stroke-width="2.5" />
<path d="M631.7,937.2 C636.1,937.3 635.6,937.3 645,937.6 C654.4,937.9 649.4,937.2 660,938 C670.6,938.8 667.4,938.8 676.7,940 C686,941.2 681.6,940 688,941.5 C694.4,943 693.3,943.5 696,944.5" stroke-width="2.5" />
<path d="M687.6,942.6 L689.1,943.2 L691.1,944 L693.4,944.9 L695.4,945.8 L697.2,946.6 L698.8,947.5 L700.5,948.4 L702.2,949.4 L704,950.6 L705.9,951.9 L707.9,953.2 L710.1,954.6 L712.3,955.9 L714.6,957.3 L716.8,958.6 L719.1,959.8 L721.2,960.9 L723.2,962 L725.2,962.9 L727.1,963.9 L728.9,964.8 L730.6,965.6 L732.4,966.4 L734.2,967.2 L736.3,968 L738.5,968.7 L740.5,969.3 L741.9,969.7 L743.1,966.3 L741.7,965.8 L739.8,965 L737.7,964.2 L735.8,963.4 L734.1,962.6 L732.4,961.8 L730.7,961 L728.9,960.1 L727,959.2 L725,958.3 L723,957.3 L720.9,956.2 L718.7,955.1 L716.4,953.9 L714.1,952.6 L711.9,951.4 L709.9,950.2 L707.8,948.9 L705.8,947.7 L703.8,946.6 L701.9,945.6 L700.2,944.8 L698.4,944 L696.6,943.2 L694.4,942.4 L692,941.6 L689.9,940.9 L688.4,940.4Z" fill="#000" stroke="#000" stroke-width="0.7"/>
<path d="M712,953.5 C714.7,954.3 714.7,954.3 720,955.8 C725.3,957.3 722.7,956.4 728,958 C733.3,959.6 731,959 736,960.5 C741,962 740.7,961.8 743,962.5" stroke-width="2.1" />
<path d="M622.9,901.9 L624.2,902.8 L626.2,904.1 L628.4,905.5 L630.6,906.8 L632.7,907.9 L634.9,909.1 L637.1,910.2 L639.4,911.4 L641.8,912.6 L644.2,913.8 L646.7,915 L649.2,916.2 L651.7,917.4 L654.2,918.5 L656.8,919.5 L659.2,920.4 L661.6,921.3 L663.9,922 L666.2,922.7 L668.4,923.3 L670.5,923.8 L672.5,924.2 L674.4,924.5 L676.3,924.8 L678,925.1 L679.7,925.3 L681.4,925.5 L683.1,925.5 L684.6,925.4 L686.2,925.2 L687.7,924.8 L689.3,924.1 L690.9,923 L692.3,921.8 L693.4,920.6 L694.1,919.9 L690.9,916.1 L690,916.7 L688.8,917.6 L687.7,918.4 L686.7,918.9 L685.9,919.2 L685.1,919.3 L684.1,919.4 L682.9,919.5 L681.7,919.5 L680.3,919.4 L678.8,919.2 L677.1,919 L675.4,918.7 L673.5,918.5 L671.6,918.1 L669.6,917.7 L667.5,917.3 L665.4,916.8 L663.1,916.2 L660.8,915.6 L658.4,914.9 L655.9,914.1 L653.3,913.2 L650.8,912.4 L648.2,911.5 L645.6,910.5 L643.1,909.6 L640.6,908.6 L638.2,907.8 L635.8,906.9 L633.6,906.1 L631.4,905.2 L629.1,904.2 L626.7,903.1 L624.6,902.2 L623.1,901.5Z" fill="#000" stroke="#000" stroke-width="0.7"/>
<path d="M698,903 C697,905.5 696.8,905.5 695,910.5 C693.2,915.5 693.6,912.8 692.5,918 C691.4,923.2 692.5,920.7 691.7,926 C690.9,931.3 691.2,929.2 690,934 C688.8,938.8 688.7,938.3 688,940.5" stroke-width="2.5" />
<path d="M592,911.5 Q598,909 601.5,903 Q602,909 606.5,914.5 Q600,912 592,915 Z" fill="#000" stroke="#000" stroke-width="0.8"/>
<path d="M685,920.5 Q690.5,919 693.5,913.5 Q692.8,920 692.2,926 Q690,922.5 685,924 Z" fill="#000" stroke="#000" stroke-width="0.8"/>
<path d="M619,758.2 Q626,758.6 631,755.5 Q630,761 629.6,768.5 Q627,762.5 619,762 Z" fill="#000" stroke="#000" stroke-width="0.8"/>
<path d="M657,982.5 C658.7,982.3 658.8,981.8 662,982 C665.2,982.2 663.4,981.5 666.7,983 C670,984.5 668.2,983.6 672,986.5 C675.8,989.4 674.3,988.4 678,991.7 C681.7,995 679.7,993.2 683,996.5 C686.3,999.8 686.3,1000 688,1001.7" stroke-width="2.5" />
<path d="M736.4,992.8 L735.3,993.9 L733.7,995.6 L732,997.4 L730.5,999.1 L729.3,1000.4 L728.3,1001.7 L727.2,1002.9 L726,1004.4 L724.4,1006.2 L722.7,1008.2 L720.9,1010.2 L719.1,1012.2 L717.4,1013.9 L715.7,1015.5 L713.9,1017.1 L712,1018.9 L709.8,1020.8 L707.5,1022.8 L705.2,1024.7 L702.9,1026.7 L700.7,1028.5 L698.5,1030.2 L696.4,1031.9 L694,1033.4 L691.4,1034.8 L688.5,1036.2 L685.4,1037.5 L682.3,1038.8 L679.2,1040 L676,1041.2 L672.7,1042.3 L669.5,1043.4 L666.3,1044.3 L663.1,1045.1 L659.9,1045.8 L656.8,1046.4 L653.7,1046.9 L650.7,1047.3 L647.8,1047.5 L645,1047.6 L642.4,1047.6 L639.9,1047.4 L637.5,1047.2 L635.2,1046.8 L632.8,1046.3 L630.4,1045.7 L628.3,1045 L626.8,1044.6 L626.6,1045.4 L628,1045.9 L630.1,1046.7 L632.4,1047.5 L634.8,1048.2 L637.2,1048.7 L639.7,1049.2 L642.2,1049.5 L645,1049.8 L647.9,1049.8 L650.9,1049.7 L654,1049.5 L657.2,1049.2 L660.4,1048.7 L663.8,1048.2 L667.1,1047.5 L670.5,1046.6 L673.8,1045.7 L677.2,1044.6 L680.5,1043.5 L683.7,1042.2 L686.9,1041 L690,1039.6 L693.1,1038.2 L696,1036.6 L698.5,1034.9 L700.8,1033.1 L703,1031.2 L705.1,1029.3 L707.4,1027.3 L709.7,1025.2 L712,1023.1 L714,1021.1 L715.9,1019.3 L717.6,1017.5 L719.3,1015.7 L720.9,1013.8 L722.6,1011.8 L724.4,1009.6 L726,1007.5 L727.4,1005.6 L728.6,1004 L729.5,1002.6 L730.5,1001.3 L731.5,999.9 L732.9,998.2 L734.5,996.2 L735.9,994.5 L737,993.2Z" fill="#000" stroke="#000" stroke-width="0.7"/>
<!-- 24h clock -->
<path d="M1173.2,980.6 A63.2,63.2 0 1 0 1141.6,1034.8" stroke-width="9.6" stroke-linecap="butt"/>
<path d="M1102.7,915 L1102.7,903 Q1102.7,900.6 1105.1,900.6 L1117.3,900.6 Q1119.7,900.6 1119.7,903 L1119.7,915 Z" fill="#000" stroke="none"/>
<line x1="1110" y1="929" x2="1110" y2="921" stroke-width="1.4" stroke-linecap="butt"/>
<line x1="1135.5" y1="935.8" x2="1139.5" y2="928.9" stroke-width="1.4" stroke-linecap="butt"/>
<line x1="1154.2" y1="954.5" x2="1161.1" y2="950.5" stroke-width="1.4" stroke-linecap="butt"/>
<line x1="1161" y1="980" x2="1169" y2="980" stroke-width="2" stroke-linecap="butt"/>
<line x1="1135.5" y1="1024.2" x2="1139.5" y2="1031.1" stroke-width="1.4" stroke-linecap="butt"/>
<line x1="1110" y1="1031" x2="1110" y2="1039" stroke-width="1.4" stroke-linecap="butt"/>
<line x1="1084.5" y1="1024.2" x2="1080.5" y2="1031.1" stroke-width="1.4" stroke-linecap="butt"/>
<line x1="1065.8" y1="1005.5" x2="1058.9" y2="1009.5" stroke-width="1.4" stroke-linecap="butt"/>
<line x1="1059" y1="980" x2="1051" y2="980" stroke-width="1.4" stroke-linecap="butt"/>
<line x1="1065.8" y1="954.5" x2="1058.9" y2="950.5" stroke-width="1.4" stroke-linecap="butt"/>
<line x1="1084.5" y1="935.8" x2="1080.5" y2="928.9" stroke-width="1.4" stroke-linecap="butt"/>
<path d="M1111.6,978.8 L1080,938 L1108.4,981.2 Z" fill="#000" stroke="#000" stroke-width="0.6"/>
<path d="M1111.4,981.6 L1140.5,953 L1108.6,978.4 Z" fill="#000" stroke="#000" stroke-width="0.6"/>
<circle cx="1110" cy="980" r="3.9" fill="#000" stroke="none"/>
<path d="M1128.6,895.5 A86.5,86.5 0 1 1 1080.4,898.7" stroke-width="5.5"/>
<path d="M1078.3,890.5 L1093.2,893.8 L1083,905.2 Z" fill="#000" stroke="#000" stroke-width="0.8"/>
<g stroke="#000" stroke-width="0.9" stroke-linejoin="miter" fill="#000" filter="url(#gray)"><text x="1092.3" y="1020.5" font-size="43.5" textLength="23" lengthAdjust="spacingAndGlyphs">2</text><text x="1117.6" y="1020.5" font-size="43.5" textLength="24.8" lengthAdjust="spacingAndGlyphs">4</text><text x="1150" y="1020.5" font-size="43.5" textLength="28" lengthAdjust="spacingAndGlyphs">h</text></g>
</svg></body></html>
